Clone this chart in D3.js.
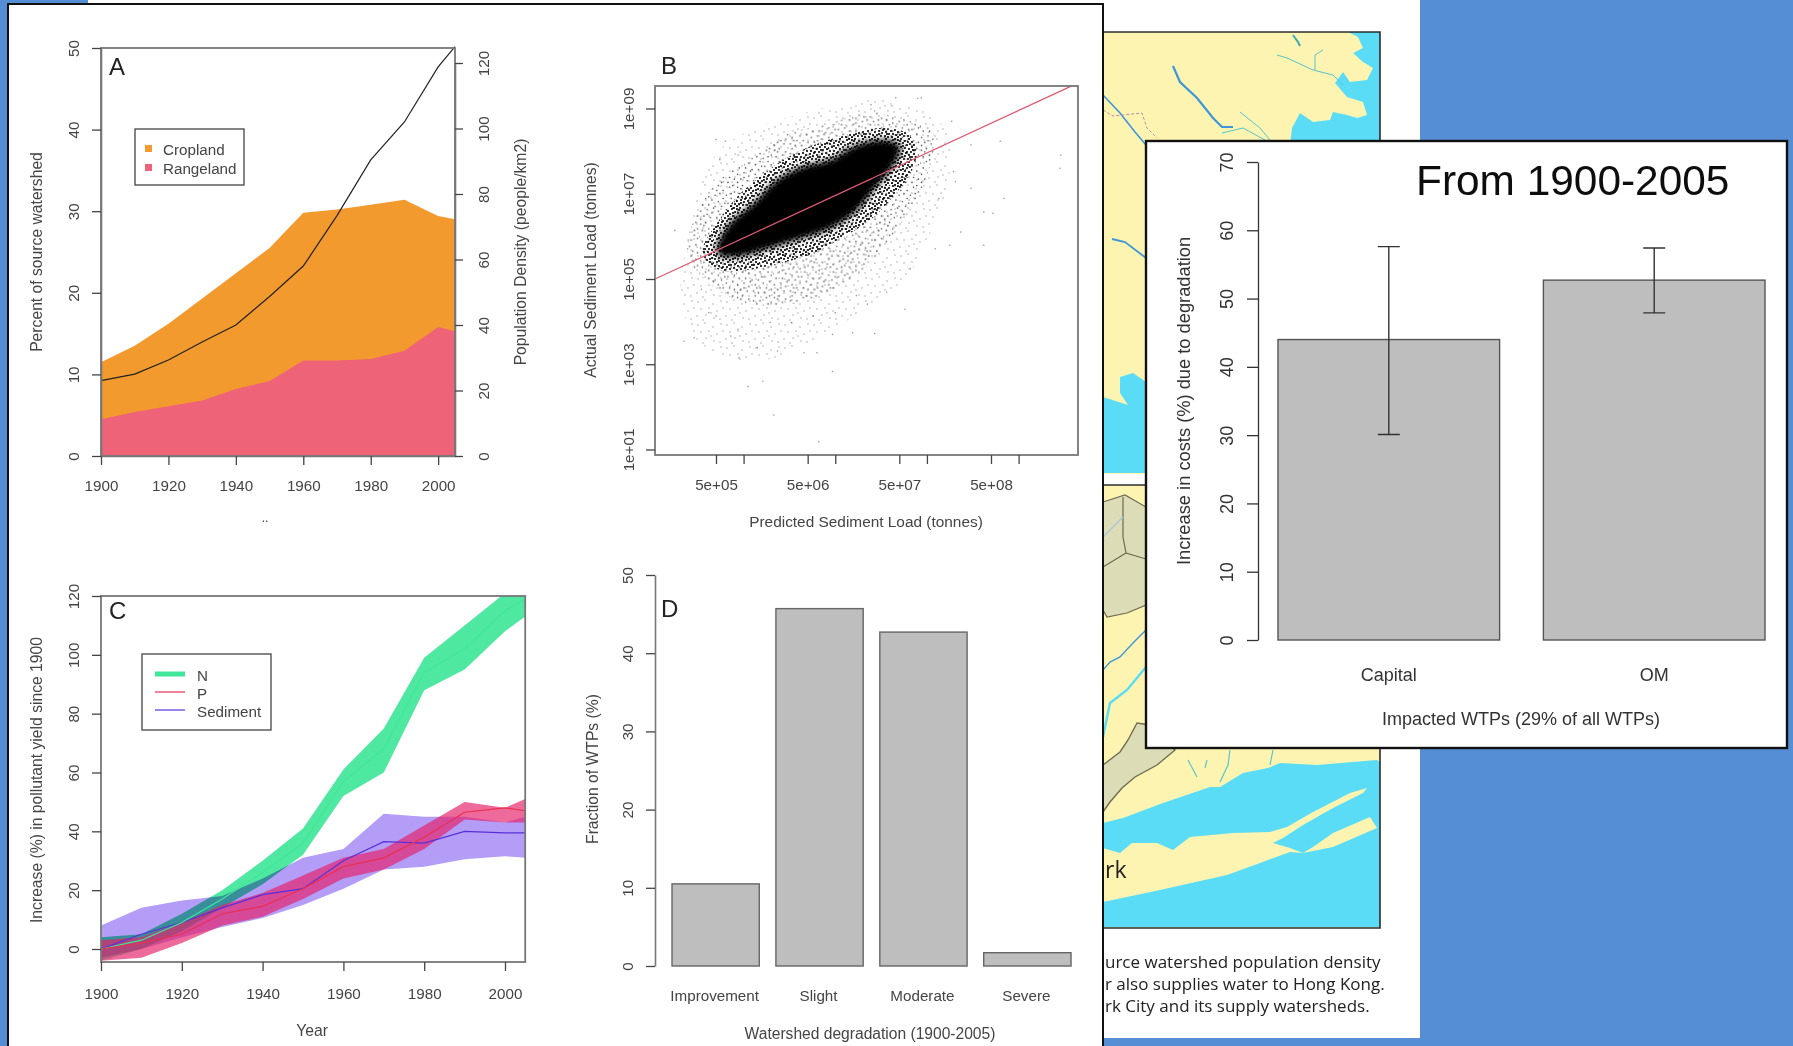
<!DOCTYPE html>
<html>
<head>
<meta charset="utf-8">
<script src="https://cdn.jsdelivr.net/npm/d3@7"></script>
<style>
  html, body { margin: 0; padding: 0; background: #558ed5; overflow: hidden; }
  text { font-family: "Liberation Sans", Arial, sans-serif; }
</style>
</head>
<body>
<svg id="slide" width="1793" height="1046"></svg>
<script>
// panel A
const years = [1900, 1910, 1920, 1930, 1940, 1950, 1960, 1970, 1980, 1990, 2000, 2005];
const cropland = [11.5, 13.5, 16.2, 19.3, 22.4, 25.5, 29.8, 30.2, 30.8, 31.4, 29.4, 29];
const rangeland = [4.5, 5.4, 6.1, 6.8, 8.2, 9.2, 11.7, 11.7, 11.9, 12.9, 15.8, 15.3];
const population = [23, 25, 29.3, 34.8, 40, 48.7, 58, 73.4, 90.4, 102, 118.8, 125];
const yearTicks = [1900, 1920, 1940, 1960, 1980, 2000];

// panel B, log10 of tonnes, outlines of the point cloud by density
const coreX = [5.71, 5.85, 6.11, 6.36, 6.65, 6.94, 7.23, 7.56, 7.71, 7.63, 7.45, 7.20, 6.91, 6.58, 6.22, 5.93, 5.73];
const coreY = [5.76, 6.31, 6.78, 7.32, 7.64, 7.79, 8.14, 8.26, 8.11, 7.64, 7.17, 6.54, 6.15, 5.92, 5.68, 5.52, 5.56];
const midX = [5.56, 5.71, 5.93, 6.18, 6.43, 6.76, 7.12, 7.49, 7.78, 7.89, 7.82, 7.63, 7.38, 7.09, 6.76, 6.40, 6.03, 5.74, 5.58];
const midY = [5.76, 6.31, 6.93, 7.40, 7.79, 8.14, 8.38, 8.54, 8.42, 8.03, 7.48, 6.93, 6.38, 5.99, 5.60, 5.37, 5.21, 5.21, 5.45];
const haloX = [5.38, 5.53, 5.74, 6.11, 6.51, 6.94, 7.34, 7.78, 8.07, 8.03, 7.92, 7.67, 7.34, 7.05, 6.58, 6.03, 5.67, 5.45];
const haloY = [5.76, 6.70, 7.32, 7.87, 8.42, 8.65, 8.89, 8.73, 8.42, 7.64, 7.01, 6.15, 5.29, 4.82, 4.43, 4.43, 4.82, 5.29];
const fringeX = [5.31, 5.42, 5.53, 5.78, 6.40, 7.12, 7.56, 8.0, 8.22, 8.22, 8.0, 7.78, 7.34, 6.87, 6.40, 5.96, 5.49];
const fringeY = [4.74, 6.15, 7.24, 8.11, 8.73, 9.12, 9.2, 8.89, 8.42, 7.09, 5.92, 5.05, 4.35, 3.65, 3.18, 3.1, 3.57];
const outlierX = [5.35, 5.46, 5.95, 6.05, 6.21, 6.33, 6.82, 6.97, 6.66, 6.80, 6.15, 6.37, 6.97, 7.19, 7.43, 7.76, 8.09, 8.25, 8.62, 8.62, 8.72, 8.84, 8.48, 8.31, 8.80, 8.48, 9.46, 9.45, 8.27, 7.94, 7.62, 7.39, 7.19, 5.70, 5.80, 5.74, 5.25, 5.39, 5.54, 5.62, 5.70, 5.94, 5.86, 6.29, 6.52, 6.76, 7.0, 7.23, 7.35, 7.56, 7.82, 8.37, 8.13, 8.29, 8.01, 7.43, 7.66, 7.90, 6.48, 6.33, 6.01, 5.94, 5.78];
const outlierY = [3.54, 3.62, 3.15, 2.48, 2.60, 1.81, 1.18, 2.83, 3.27, 3.27, 3.39, 3.31, 3.70, 3.74, 3.72, 4.29, 5.71, 5.79, 5.79, 6.57, 6.54, 6.89, 7.13, 7.28, 8.23, 8.15, 7.91, 7.60, 8.70, 9.25, 9.06, 9.09, 8.78, 8.27, 8.23, 7.80, 6.14, 5.71, 4.76, 4.21, 4.13, 3.82, 3.66, 3.98, 3.98, 4.13, 4.21, 4.61, 4.41, 4.69, 5.24, 6.10, 6.89, 7.52, 8.54, 8.94, 9.25, 9.24, 8.39, 8.15, 7.68, 7.91, 7.28];
const fitX = [1.08e5, 3.8e9];
const fitY = [1e5, 3.4e9];
const predictedTicks = [5e5, 1e6, 5e6, 1e7, 5e7, 1e8, 5e8, 1e9];
const predictedLabels = ["5e+05", "", "5e+06", "", "5e+07", "", "5e+08", ""];
const actualTicks = [1e1, 1e3, 1e5, 1e7, 1e9];
const actualLabels = ["1e+01", "1e+03", "1e+05", "1e+07", "1e+09"];

// panel C
const nUpper = [4, 5, 12, 20, 30, 41, 61, 75, 99, 110, 121, 124];
const nMid = [0, 3, 9, 17, 26, 36, 57, 68, 94, 102, 115, 119];
const nLower = [-4, 0, 6, 14, 22, 32, 52, 60, 88, 95, 108, 113];
const pUpper = [3, 4, 9, 15, 19, 25, 31, 34, 42, 50, 48, 51];
const pMid = [0, 2, 5, 12, 14.5, 20.5, 28, 31, 38, 46.5, 48, 47];
const pLower = [-4, -3, 2, 8, 11, 17, 24, 27, 34, 44, 43, 43];
const sedUpper = [8, 14, 16.5, 18, 24, 31, 34, 46, 45, 45, 43, 45];
const sedMid = [0, 5, 9, 14, 18.5, 20.5, 30, 36.5, 36, 40, 39.5, 39.5];
const sedLower = [-3, 0, 4, 7.5, 10.5, 15, 20.5, 27, 28, 30.5, 31.5, 31];

// panel D
const degradation = ["Improvement", "Slight", "Moderate", "Severe"];
const fractionWtp = [10.5, 45.7, 42.7, 1.7];

// inset
const costType = ["Capital", "OM"];
const costIncrease = [44, 52.7];
const costLow = [30.1, 47.9];
const costHigh = [57.6, 57.4];

// map behind the figures, page pixels
const coastNorth = [[1350,33],[1358,37],[1363,48],[1353,53],[1363,62],[1373,68],[1367,80],[1350,82],[1343,72],[1335,83],[1347,97],[1363,102],[1367,115],[1357,118],[1347,115],[1333,112],[1330,120],[1313,122],[1300,113],[1292,128],[1290,145],[1380,145],[1380,32],[1350,32]];
const riverThick = [[1173,66],[1180,82],[1197,98],[1213,118],[1222,127],[1233,127]];
const riverThin = [[1277,55],[1287,58],[1313,70],[1333,75],[1343,85]];
const riverThin2 = [[1240,112],[1260,128],[1270,140]];
const riverThin3 = [[1222,133],[1243,128],[1265,140]];
const riverThin4 = [[1315,70],[1315,55],[1323,50]];
const riverTop = [[1293,35],[1298,42],[1300,46]];
const riverWest = [[1103,95],[1120,113],[1135,132],[1146,145]];
const riverWest2 = [[1112,239],[1125,242],[1146,258]];
const stateLine = [[1103,110],[1113,116],[1142,113],[1147,128],[1157,138]];
const lakeWest = [[1120,377],[1133,373],[1146,382],[1146,473],[1103,473],[1103,397],[1128,405],[1120,393]];
const watershedNorth = [[1103,502],[1125,495],[1146,507],[1146,605],[1127,613],[1107,617],[1103,610]];
const watershedLine = [[1123,497],[1123,537],[1126,553],[1146,559]];
const watershedLine2 = [[1126,553],[1103,567]];
const watershedSouth = [[1103,765],[1120,752],[1128,740],[1137,723],[1150,725],[1170,745],[1175,750],[1157,765],[1135,777],[1122,788],[1110,802],[1103,812]];
const riverSouth = [[1103,670],[1110,662],[1120,657],[1133,643],[1146,630]];
const riverSouth2 = [[1103,737],[1110,703],[1127,690],[1146,667]];
const riverBeige = [[1103,537],[1123,517]];
const inlandMarks = [[[1188,760],[1197,777]], [[1207,760],[1205,768]], [[1230,750],[1228,765],[1220,782]], [[1273,750],[1270,765]]];
const sound = [[1103,823],[1123,818],[1163,803],[1210,787],[1220,787],[1243,773],[1268,768],[1280,763],[1317,765],[1377,760],[1380,762],[1380,927],[1103,927]];
const longIsland = [[1103,848],[1120,853],[1132,843],[1157,843],[1173,850],[1190,837],[1233,833],[1270,832],[1287,827],[1313,812],[1350,793],[1367,788],[1363,793],[1333,808],[1303,825],[1283,838],[1273,843],[1290,848],[1303,853],[1313,847],[1333,833],[1370,817],[1377,828],[1333,847],[1303,853],[1290,852],[1260,863],[1227,875],[1160,890],[1103,902]];
const captionLines = ["urce watershed population density", "r also supplies water to Hong Kong.", "rk City and its supply watersheds."];

// irregular stipple tile for the scatter cloud
const grain = [[1,2],[4,1],[8,3],[12,1],[15,4],[19,2],[22,5],[2,6],[6,5],[10,7],[13,6],[17,7],[20,9],[0,10],[4,9],[8,10],[12,11],[15,9],[18,12],[22,11],[2,13],[6,13],[10,14],[14,14],[17,16],[21,15],[1,17],[5,16],[8,18],[12,17],[15,19],[19,19],[22,20],[3,20],[7,21],[11,21],[14,22],[18,22],[1,22],[6,8],[11,4],[20,6],[16,12],[9,15],[3,3],[21,1],[13,19],[5,19]];
const sparseGrain = [[2,3],[9,1],[17,5],[25,2],[5,10],[13,9],[21,12],[27,9],[1,17],[10,16],[18,19],[24,20],[7,21],[15,14]];

const svg = d3.select("#slide");
const line = d3.line();
const ink = "#444";
const boxGrey = "#777";

const defs = svg.append("defs");
const blur = (id, sd) => defs.append("filter").attr("id", id)
    .attr("x", -0.1).attr("y", -0.1).attr("width", 1.2).attr("height", 1.2)
    .append("feGaussianBlur").attr("stdDeviation", sd);
blur("soft", 0.75);
blur("softer", 0.35);
blur("cloudEdge", 3);

const tile = (id, size, h, dots, scale, r, op) => {
  defs.append("pattern").attr("id", id).attr("patternUnits", "userSpaceOnUse")
      .attr("width", size).attr("height", h).attr("patternTransform", `scale(${scale})`)
    .selectAll("circle").data(dots).join("circle")
      .attr("cx", d => d[0]).attr("cy", d => d[1]).attr("r", r).attr("fill", "#000").attr("fill-opacity", op);
};
tile("midDots", 23, 23, grain, 1, 1.05, 1);
tile("haloDots", 23, 23, grain, 1.6, 0.5, 0.7);
tile("fringeDots", 29, 23, sparseGrain, 1, 0.75, 0.35);

// slide background, page with the map
svg.append("rect").attr("width", 1793).attr("height", 1046).attr("fill", "#558ed5");
svg.append("rect").attr("x", 88).attr("y", 0).attr("width", 1332).attr("height", 1038).attr("fill", "#fff");

const map = svg.append("g").attr("filter", "url(#softer)");
const closed = d => line(d) + "Z";
const land = "#fdf4b2", water = "#5adcf6", river = "#3f97d8", stream = "#58c4cc", shed = "#6d6d52";
map.append("rect").attr("x", 1100).attr("y", 32).attr("width", 280).attr("height", 442).attr("fill", land);
map.append("rect").attr("x", 1100).attr("y", 485).attr("width", 280).attr("height", 443).attr("fill", land);
map.append("path").attr("d", closed(coastNorth)).attr("fill", water);
map.append("path").attr("d", closed(lakeWest)).attr("fill", water);
map.append("path").attr("d", closed(watershedNorth)).attr("fill", "#dcdcb6").attr("stroke", shed).attr("stroke-width", 1.2);
map.append("path").attr("d", closed(watershedSouth)).attr("fill", "#dcdcb6").attr("stroke", shed).attr("stroke-width", 1.4);
[watershedLine, watershedLine2].forEach(p => map.append("path").attr("d", line(p)).attr("fill", "none").attr("stroke", shed).attr("stroke-width", 1.2));
map.append("path").attr("d", closed(sound)).attr("fill", water);
map.append("path").attr("d", closed(longIsland)).attr("fill", land);
[[riverThick, 2.2, river], [riverThin, 1, stream], [riverThin2, 1, stream], [riverThin3, 1, stream], [riverThin4, 1, stream], [riverTop, 2, "#3fa8b8"],
 [riverWest, 1.6, river], [riverWest2, 1.8, river], [riverSouth, 1.4, river], [riverSouth2, 2.4, water], [riverBeige, 1.4, "#a9c6dc"]]
  .forEach(([pts, w, c]) => map.append("path").attr("d", line(pts)).attr("fill", "none").attr("stroke", c).attr("stroke-width", w));
inlandMarks.forEach(p => map.append("path").attr("d", line(p)).attr("fill", "none").attr("stroke", stream).attr("stroke-width", 1.2));
map.append("path").attr("d", line(stateLine)).attr("fill", "none").attr("stroke", "#b58fa8").attr("stroke-width", 1).attr("stroke-dasharray", "3 2");
map.append("path").attr("d", "M1100,32H1380V474M1100,485H1380V928H1100").attr("fill", "none").attr("stroke", "#2b2b2b").attr("stroke-width", 1.6);
map.append("text").attr("x", 1105).attr("y", 878).attr("font-size", 23).style("font-family", "Open Sans").attr("fill", "#222").text("rk");
map.selectAll(".caption").data(captionLines).join("text").attr("class", "caption")
    .attr("x", 1105).attr("y", (d, i) => 968 + i * 22)
    .attr("font-size", 17).style("font-family", "Open Sans").attr("fill", "#222").text(d => d);

// big figure sheet
svg.append("rect").attr("x", 8).attr("y", 4).attr("width", 1095).attr("height", 1060)
    .attr("fill", "#fff").attr("stroke", "#111").attr("stroke-width", 2);

const fig = svg.append("g").attr("filter", "url(#soft)");

const styleAxis = g => {
  g.selectAll("line").attr("stroke", ink).attr("stroke-width", 1.3);
  g.selectAll("path").attr("stroke", boxGrey).attr("stroke-width", 1.6);
  g.selectAll("text").attr("fill", ink).attr("font-size", 15.2).style("font-family", "Liberation Sans");
};
const rotateLabels = (g, off) => g.selectAll("text")
    .attr("x", 0).attr("dy", 0).attr("y", 0)
    .attr("text-anchor", "middle").attr("dominant-baseline", "central")
    .attr("transform", `translate(${off},0) rotate(-90)`);
const xLabels = (g, off) => g.selectAll("text").attr("y", off).attr("dy", 0).attr("dominant-baseline", "central");
const label = (g, x, y, s, size = 15.7, rot = false, col = ink) => g.append("text")
    .attr("transform", rot ? `translate(${x},${y}) rotate(-90)` : `translate(${x},${y})`)
    .attr("text-anchor", "middle").attr("dominant-baseline", "central")
    .attr("font-size", size).attr("fill", col).text(s);
const box = (g, x0, x1, y0, y1) => g.append("rect").attr("x", x0).attr("y", y0)
    .attr("width", x1 - x0).attr("height", y1 - y0).attr("fill", "none").attr("stroke", boxGrey).attr("stroke-width", 1.8);
const panelLetter = (g, x, y, s) => g.append("text").attr("x", x).attr("y", y).attr("font-size", 24).attr("fill", "#222").text(s);

// A
{
  const g = fig.append("g");
  const x = d3.scaleLinear([1900, 2005], [101, 455]);
  const y = d3.scaleLinear([0, 50], [456, 48]);
  const yPop = d3.scaleLinear([0, 120], [456, 63]);
  const area = vals => d3.area().x((d, i) => x(years[i])).y0(y(0)).y1(d => y(d))(vals);

  g.append("path").attr("d", area(cropland)).attr("fill", "#f39a2d");
  g.append("path").attr("d", area(rangeland)).attr("fill", "#ee6478");
  g.append("path").attr("d", d3.line().x((d, i) => x(years[i])).y(d => yPop(d))(population))
      .attr("fill", "none").attr("stroke", "#222").attr("stroke-width", 1.2);
  box(g, 101, 455, 48, 456);

  g.append("g").attr("transform", "translate(0,456)")
      .call(d3.axisBottom(x).tickValues(yearTicks).tickFormat(d3.format("d")).tickSize(9).tickSizeOuter(0))
      .call(styleAxis).call(a => xLabels(a, 29));
  g.append("g").attr("transform", "translate(101,0)")
      .call(d3.axisLeft(y).tickValues(d3.range(0, 51, 10)).tickSize(9).tickSizeOuter(0))
      .call(styleAxis).call(a => rotateLabels(a, -28));
  g.append("g").attr("transform", "translate(455,0)")
      .call(d3.axisRight(yPop).tickValues(d3.range(0, 121, 20)).tickSize(8).tickSizeOuter(0))
      .call(styleAxis).call(a => rotateLabels(a, 28));

  label(g, 36, 252, "Percent of source watershed", 15.7, true);
  label(g, 520, 252, "Population Density (people/km2)", 15.7, true);
  label(g, 265, 518, "..", 12);
  panelLetter(g, 109, 75, "A");

  g.append("rect").attr("x", 135).attr("y", 129).attr("width", 109).attr("height", 56)
      .attr("fill", "#fff").attr("stroke", "#444").attr("stroke-width", 1.3);
  const keys = [["Cropland", "#f39a2d"], ["Rangeland", "#ee6478"]];
  g.selectAll(".keyA").data(keys).join("rect").attr("class", "keyA")
      .attr("x", 145).attr("y", (d, i) => 145 + i * 19).attr("width", 7).attr("height", 7).attr("fill", d => d[1]);
  g.selectAll(".keyTextA").data(keys).join("text").attr("class", "keyTextA")
      .attr("x", 163).attr("y", (d, i) => 149 + i * 19).attr("dominant-baseline", "central")
      .attr("font-size", 15.2).attr("fill", ink).text(d => d[0]);
}

// B
{
  const g = fig.append("g");
  const x = d3.scaleLog([5e5, 5e8], [716, 991]);
  const y = d3.scaleLog([1e1, 1e9], [449.5, 108.5]);
  const poly = (xs, ys) => d3.line().x(d => x(10 ** d)).y((d, i) => y(10 ** ys[i])).curve(d3.curveCatmullRomClosed)(xs);

  g.append("path").attr("d", poly(fringeX, fringeY)).attr("fill", "url(#fringeDots)");
  g.append("path").attr("d", poly(haloX, haloY)).attr("fill", "url(#haloDots)");
  g.append("path").attr("d", poly(midX, midY)).attr("fill", "url(#midDots)");
  g.append("path").attr("d", poly(coreX, coreY)).attr("fill", "#000").attr("filter", "url(#cloudEdge)");
  g.selectAll("circle").data(outlierX).join("circle")
      .attr("cx", d => x(10 ** d)).attr("cy", (d, i) => y(10 ** outlierY[i]))
      .attr("r", 0.8).attr("fill", "#000").attr("fill-opacity", 0.4);
  g.append("line").attr("x1", x(fitX[0])).attr("y1", y(fitY[0])).attr("x2", x(fitX[1])).attr("y2", y(fitY[1]))
      .attr("stroke", "#dd5a70").attr("stroke-width", 1.3);
  box(g, 655, 1078, 86, 455);

  g.append("g").attr("transform", "translate(0,455)")
      .call(d3.axisBottom(x).tickValues(predictedTicks).tickFormat((d, i) => predictedLabels[i]).tickSize(9).tickSizeOuter(0))
      .call(styleAxis).call(a => xLabels(a, 29)).call(a => a.select(".domain").remove());
  g.append("g").attr("transform", "translate(655,0)")
      .call(d3.axisLeft(y).tickValues(actualTicks).tickFormat((d, i) => actualLabels[i]).tickSize(9).tickSizeOuter(0))
      .call(styleAxis).call(a => rotateLabels(a, -27)).call(a => a.select(".domain").remove());

  label(g, 866, 521, "Predicted Sediment Load (tonnes)", 15.4);
  label(g, 590, 270, "Actual Sediment Load (tonnes)", 15.7, true);
  panelLetter(g, 661, 74, "B");
}

// C
{
  const g = fig.append("g");
  const x = d3.scaleLinear([1900, 2000], [101, 505]);
  const y = d3.scaleLinear([0, 120], [949, 596]);
  const left = x(1900), right = x(2005), top = y(120), bottom = 962;

  defs.append("clipPath").attr("id", "clipC").append("rect")
      .attr("x", left).attr("y", top).attr("width", right - left).attr("height", bottom - top);
  const plot = g.append("g").attr("clip-path", "url(#clipC)");

  const band = (lo, hi) => d3.area().x((d, i) => x(years[i])).y0((d, i) => y(lo[i])).y1(d => y(d))(hi);
  const mid = vals => d3.line().x((d, i) => x(years[i])).y(d => y(d))(vals);
  const series = [
    ["Sediment", sedLower, sedMid, sedUpper, "#b39df7", 1, "#5a2fd8", 1.2, "normal"],
    ["N", nLower, nMid, nUpper, "#4fe8a0", 1, "#3fe79a", 5, "multiply"],
    ["P", pLower, pMid, pUpper, "#e6206a", 0.68, "#e8304f", 1.2, "normal"]
  ];
  series.forEach(s => {
    plot.append("path").attr("d", band(s[1], s[3])).attr("fill", s[4]).attr("fill-opacity", s[5])
        .style("mix-blend-mode", s[8]);
  });
  series.forEach(s => {
    plot.append("path").attr("d", mid(s[2])).attr("fill", "none").attr("stroke", s[6]).attr("stroke-width", s[0] == "N" ? 1.2 : s[7]);
  });
  box(g, left, right, top, bottom);

  g.append("g").attr("transform", `translate(0,${bottom})`)
      .call(d3.axisBottom(x).tickValues(yearTicks).tickFormat(d3.format("d")).tickSize(9).tickSizeOuter(0))
      .call(styleAxis).call(a => xLabels(a, 31)).call(a => a.select(".domain").remove());
  g.append("g").attr("transform", `translate(${left},0)`)
      .call(d3.axisLeft(y).tickValues(d3.range(0, 121, 20)).tickSize(9).tickSizeOuter(0))
      .call(styleAxis).call(a => rotateLabels(a, -28)).call(a => a.select(".domain").remove());

  label(g, 312, 1030, "Year");
  label(g, 36, 780, "Increase (%) in pollutant yield since 1900", 15.7, true);
  panelLetter(g, 109, 619, "C");

  g.append("rect").attr("x", 142).attr("y", 654).attr("width", 129).attr("height", 76)
      .attr("fill", "#fff").attr("stroke", "#444").attr("stroke-width", 1.3);
  ["N", "P", "Sediment"].forEach((name, i) => {
    const s = series.find(d => d[0] == name);
    g.append("line").attr("x1", 155).attr("x2", 185).attr("y1", 674 + i * 18).attr("y2", 674 + i * 18)
        .attr("stroke", s[6]).attr("stroke-width", s[7]);
    g.append("text").attr("x", 197).attr("y", 675 + i * 18).attr("dominant-baseline", "central")
        .attr("font-size", 15.2).attr("fill", ink).text(name);
  });
}

// D
{
  const g = fig.append("g");
  const x = d3.scaleBand(degradation, [672, 1071]).paddingInner(0.16).paddingOuter(0);
  const y = d3.scaleLinear([0, 50], [966, 575]);

  g.selectAll("rect").data(fractionWtp).join("rect")
      .attr("x", (d, i) => x(degradation[i])).attr("width", x.bandwidth())
      .attr("y", d => y(d)).attr("height", d => y(0) - y(d))
      .attr("fill", "#bebebe").attr("stroke", "#666").attr("stroke-width", 1.4);
  g.append("g").attr("transform", "translate(655,0)")
      .call(d3.axisLeft(y).tickValues(d3.range(0, 51, 10)).tickSize(9).tickSizeOuter(0))
      .call(styleAxis).call(a => rotateLabels(a, -28));
  g.selectAll(".cat").data(degradation).join("text").attr("class", "cat")
      .attr("x", d => x(d) + x.bandwidth() / 2 - 1).attr("y", 995)
      .attr("text-anchor", "middle").attr("dominant-baseline", "central")
      .attr("font-size", 15.2).attr("fill", ink).text(d => d);

  label(g, 870, 1033, "Watershed degradation (1900-2005)", 15.6);
  label(g, 592, 769, "Fraction of WTPs (%)", 15.7, true);
  panelLetter(g, 661, 617, "D");
}

// inset
{
  svg.append("rect").attr("x", 1146).attr("y", 141).attr("width", 641).attr("height", 607)
      .attr("fill", "#fff").attr("stroke", "#111").attr("stroke-width", 2.4);
  const g = svg.append("g").attr("filter", "url(#softer)");
  const x = d3.scaleBand(costType, [1278, 1765]).paddingInner(0.165).paddingOuter(0);
  const y = d3.scaleLinear([0, 70], [640, 162]);
  const mids = d => x(d) + x.bandwidth() / 2;

  g.selectAll(".bar").data(costIncrease).join("rect").attr("class", "bar")
      .attr("x", (d, i) => x(costType[i])).attr("width", x.bandwidth())
      .attr("y", d => y(d)).attr("height", d => y(0) - y(d))
      .attr("fill", "#bebebe").attr("stroke", "#555").attr("stroke-width", 1.4);
  g.selectAll(".err").data(costType).join("path").attr("class", "err")
      .attr("d", (d, i) => {
        const c = mids(d), hi = y(costHigh[i]), lo = y(costLow[i]);
        return `M${c - 11},${hi}H${c + 11}M${c},${hi}V${lo}M${c - 11},${lo}H${c + 11}`;
      })
      .attr("fill", "none").attr("stroke", "#333").attr("stroke-width", 1.4);
  g.append("g").attr("transform", "translate(1258,0)")
      .call(d3.axisLeft(y).tickValues(d3.range(0, 71, 10)).tickSize(11).tickSizeOuter(0))
      .call(a => {
        a.selectAll("line").attr("stroke", "#333").attr("stroke-width", 1.3);
        a.selectAll("path").attr("stroke", "#333").attr("stroke-width", 1.3);
        a.selectAll("text").attr("fill", "#333").attr("font-size", 18).style("font-family", "Liberation Sans");
      })
      .call(a => rotateLabels(a, -31));
  g.selectAll(".capLabel").data(costType).join("text").attr("class", "capLabel")
      .attr("x", mids).attr("y", 675).attr("text-anchor", "middle").attr("dominant-baseline", "central")
      .attr("font-size", 18).attr("fill", "#333").text(d => d);
  label(g, 1521, 719, "Impacted WTPs (29% of all WTPs)", 18, false, "#333");
  label(g, 1183, 401, "Increase in costs (%) due to degradation", 18.3, true, "#333");
  g.append("text").attr("x", 1416).attr("y", 195).attr("font-size", 42.4).attr("fill", "#111").text("From 1900-2005");
}
</script>
</body>
</html>
